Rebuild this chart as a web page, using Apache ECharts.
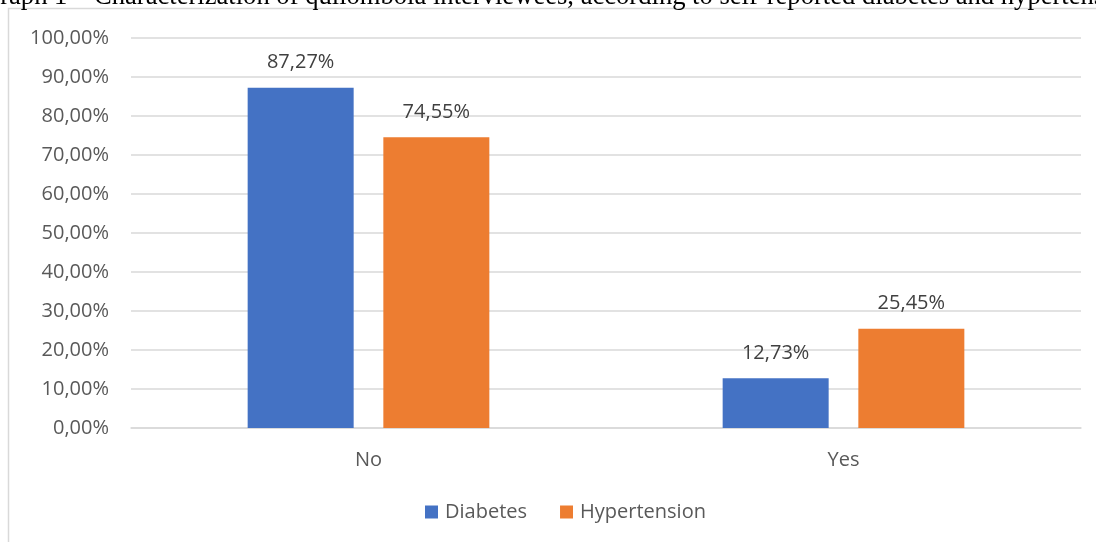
<!DOCTYPE html>
<html>
<head>
<meta charset="utf-8">
<script src="https://cdn.jsdelivr.net/npm/echarts@6/dist/echarts.min.js"></script>
<style>
  html, body { margin: 0; padding: 0; background: #fff; }
  #chart { width: 1096px; height: 542px; }
</style>
</head>
<body>
<div id="chart"></div>
<script>
// Self-reported conditions among interviewees (share of respondents, %)
const categories = ['No', 'Yes'];
const diabetes = [87.27, 12.73];
const hypertension = [74.55, 25.45];
const seriesNames = ['Diabetes', 'Hypertension'];
const titleText = 'Graph 1 – Characterization of quilombola interviewees, according to self-reported diabetes and hypertension';

const fmt = v => v.toFixed(2).replace('.', ',') + '%';
const labelFont = '"Open Sans", "Noto Sans", sans-serif';
const fs = 20;

const chart = echarts.init(document.getElementById('chart'), null, { renderer: 'canvas' });

const barLabel = {
  show: true,
  position: 'top',
  distance: 15,
  color: '#404040',
  fontFamily: labelFont,
  fontSize: fs,
  formatter: p => fmt(p.value)
};

chart.setOption({
  animation: false,
  textStyle: { fontFamily: labelFont },
  graphic: [
    {
      type: 'rect',
      shape: { x: 8.5, y: 8.5, width: 1200, height: 600 },
      style: { fill: 'none', stroke: '#d9d9d9', lineWidth: 1.5 },
      silent: true, z: 0
    },
    {
      type: 'text',
      x: -19, y: -3,
      style: {
        text: titleText,
        font: '26.6px "Liberation Serif", "DejaVu Serif", serif',
        fill: '#000',
        verticalAlign: 'middle'
      },
      silent: true, z: 10
    }
  ],
  grid: { left: 131, right: 15, top: 38, bottom: 114, containLabel: false },
  legend: {
    bottom: 15,
    left: 420,
    itemWidth: 13,
    itemHeight: 13,
    itemGap: 33,
    icon: 'rect',
    textStyle: { color: '#595959', fontSize: fs, fontFamily: labelFont, padding: [0, 0, 0, 2] },
    data: seriesNames
  },
  xAxis: {
    type: 'category',
    data: categories,
    axisLine: { lineStyle: { color: '#d9d9d9', width: 1.5 } },
    axisTick: { show: false },
    axisLabel: { color: '#595959', fontSize: fs, margin: 22, fontFamily: labelFont }
  },
  yAxis: {
    type: 'value',
    min: 0,
    max: 100,
    interval: 10,
    axisLine: { show: false },
    axisTick: { show: false },
    splitLine: { lineStyle: { color: '#d9d9d9', width: 1.5 } },
    axisLabel: { color: '#595959', fontSize: fs, margin: 22, fontFamily: labelFont, formatter: v => fmt(v) }
  },
  series: [
    {
      name: seriesNames[0],
      type: 'bar',
      data: diabetes,
      barWidth: 106,
      barGap: '28%',
      itemStyle: { color: '#4472C4' },
      label: barLabel
    },
    {
      name: seriesNames[1],
      type: 'bar',
      data: hypertension,
      barWidth: 106,
      itemStyle: { color: '#ED7D31' },
      label: barLabel
    }
  ]
});
</script>
</body>
</html>
